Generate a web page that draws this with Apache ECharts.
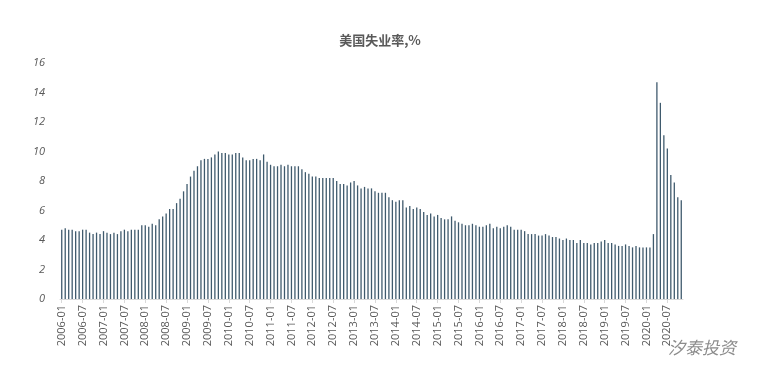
<!DOCTYPE html>
<html><head><meta charset="utf-8">
<script src="https://cdn.jsdelivr.net/npm/echarts@6/dist/echarts.min.js"></script>
<style>html,body{margin:0;padding:0;background:#fff}#c{width:760px;height:382px}</style>
</head><body><div id="c"></div>
<script>
const titleText = '美国失业率,%';
const startYear = 2006;
const v2006 = [4.7,4.8,4.7,4.7,4.6,4.6,4.7,4.7,4.5,4.4,4.5,4.4];
const v2007 = [4.6,4.5,4.4,4.5,4.4,4.6,4.7,4.6,4.7,4.7,4.7,5.0];
const v2008 = [5.0,4.9,5.1,5.0,5.4,5.6,5.8,6.1,6.1,6.5,6.8,7.3];
const v2009 = [7.8,8.3,8.7,9.0,9.4,9.5,9.5,9.6,9.8,10.0,9.9,9.9];
const v2010 = [9.8,9.8,9.9,9.9,9.6,9.4,9.4,9.5,9.5,9.4,9.8,9.3];
const v2011 = [9.1,9.0,9.0,9.1,9.0,9.1,9.0,9.0,9.0,8.8,8.6,8.5];
const v2012 = [8.3,8.3,8.2,8.2,8.2,8.2,8.2,8.0,7.8,7.8,7.7,7.9];
const v2013 = [8.0,7.7,7.5,7.6,7.5,7.5,7.3,7.2,7.2,7.2,6.9,6.7];
const v2014 = [6.6,6.7,6.7,6.2,6.3,6.1,6.2,6.1,5.9,5.7,5.8,5.6];
const v2015 = [5.7,5.5,5.4,5.4,5.6,5.3,5.2,5.1,5.0,5.0,5.1,5.0];
const v2016 = [4.9,4.9,5.0,5.1,4.8,4.9,4.8,4.9,5.0,4.9,4.7,4.7];
const v2017 = [4.7,4.6,4.4,4.4,4.4,4.3,4.3,4.4,4.3,4.2,4.2,4.1];
const v2018 = [4.0,4.1,4.0,4.0,3.8,4.0,3.8,3.8,3.7,3.8,3.8,3.9];
const v2019 = [4.0,3.8,3.8,3.7,3.6,3.6,3.7,3.6,3.5,3.6,3.5,3.5];
const v2020 = [3.5,3.5,4.4,14.7,13.3,11.1,10.2,8.4,7.9,6.9,6.7];
const yearly = [v2006,v2007,v2008,v2009,v2010,v2011,v2012,v2013,v2014,v2015,v2016,v2017,v2018,v2019,v2020];
const categories = [];
const values = [];
yearly.forEach((arr, i) => {
  arr.forEach((v, m) => {
    categories.push((startYear + i) + '-' + String(m + 1).padStart(2, '0'));
    values.push(v);
  });
});
const chart = echarts.init(document.getElementById('c'));
chart.setOption({
  backgroundColor: '#fff',
  animation: false,
  title: {
    text: titleText, left: 'center', top: 29,
    textStyle: {fontSize: 13, fontWeight: 'bold', color: '#595959', fontFamily: 'Noto Sans CJK SC'}
  },
  grid: {left: 60, right: 77, top: 63, bottom: 83},
  xAxis: {
    type: 'category', data: categories,
    axisLine: {lineStyle: {color: '#d9d9d9'}},
    axisTick: {show: true, interval: 5, alignWithLabel: true, length: 4, lineStyle: {color: '#d9d9d9'}},
    axisLabel: {interval: 5, rotate: 90, color: '#595959', fontSize: 11, fontFamily: 'Open Sans', margin: 6}
  },
  yAxis: {
    type: 'value', min: 0, max: 16, interval: 2,
    splitLine: {show: false},
    axisLine: {show: false}, axisTick: {show: false},
    axisLabel: {color: '#595959', fontSize: 11, fontStyle: 'italic', fontFamily: 'Open Sans', margin: 15}
  },
  series: [{
    type: 'bar', data: values, barWidth: 1.3,
    itemStyle: {color: '#3f5a6d'}
  }],
  graphic: [{
    type: 'text', left: 668, top: 339,
    style: {text: '汐泰投资', fill: '#8c8c8c', fontSize: 17, fontStyle: 'italic', fontFamily: 'Noto Sans CJK SC'}
  }]
});
</script></body></html>
